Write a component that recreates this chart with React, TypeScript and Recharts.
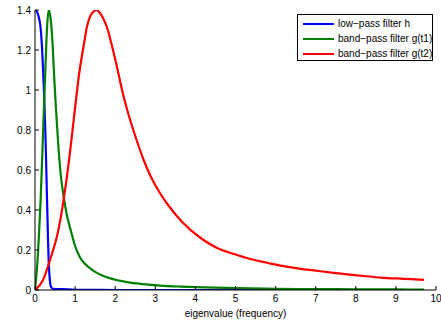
import React from 'react';
import { LineChart, Line, XAxis, YAxis, Legend } from 'recharts';

// low-pass filter h
const hX = [0, 0.05, 0.1, 0.14, 0.17, 0.2, 0.23, 0.26, 0.28, 0.3, 0.32, 0.34, 0.37, 0.4, 0.45, 0.7, 1.0, 2, 3, 4, 5, 6, 7, 8, 9, 9.7];
const hY = [1.4, 1.39, 1.36, 1.31, 1.23, 1.11, 0.96, 0.78, 0.62, 0.45, 0.29, 0.15, 0.05, 0.015, 0.006, 0.004, 0.001, 0, 0, 0, 0, 0, 0, 0, 0, 0];

// band-pass filter g(t1)
const g1X = [0, 0.05, 0.1, 0.14, 0.17, 0.2, 0.23, 0.26, 0.3, 0.34, 0.38, 0.43, 0.47, 0.51, 0.55, 0.59, 0.64, 0.72, 0.8, 0.89, 1.0, 1.13, 1.25, 1.37, 1.47, 1.65, 1.88, 2.1, 2.3, 2.7, 3.13, 3.63, 4.2, 5, 6, 7, 8, 9, 9.7];
const g1Y = [0, 0.11, 0.28, 0.45, 0.61, 0.78, 0.95, 1.11, 1.31, 1.4, 1.37, 1.26, 1.1, 0.95, 0.82, 0.7, 0.58, 0.46, 0.37, 0.3, 0.22, 0.16, 0.13, 0.109, 0.094, 0.075, 0.058, 0.047, 0.039, 0.029, 0.022, 0.017, 0.013, 0.009, 0.006, 0.0045, 0.0035, 0.0028, 0.0024];

// band-pass filter g(t2)
const g2X = [0, 0.2, 0.39, 0.55, 0.64, 0.72, 0.85, 0.97, 1.1, 1.22, 1.3, 1.38, 1.45, 1.53, 1.62, 1.72, 1.8, 1.92, 2.05, 2.17, 2.3, 2.5, 2.71, 2.88, 3.13, 3.3, 3.67, 4.13, 4.54, 4.96, 5.37, 5.79, 6.12, 6.62, 6.95, 7.4, 7.79, 8.2, 8.62, 9.2, 9.7];
const g2Y = [0, 0.05, 0.16, 0.27, 0.36, 0.46, 0.65, 0.86, 1.08, 1.23, 1.32, 1.37, 1.39, 1.4, 1.385, 1.35, 1.31, 1.22, 1.11, 1.0, 0.9, 0.77, 0.65, 0.57, 0.48, 0.43, 0.34, 0.26, 0.21, 0.18, 0.155, 0.136, 0.122, 0.106, 0.098, 0.087, 0.078, 0.07, 0.062, 0.056, 0.051];

const seriesNames = ['low\u2212pass filter h', 'band\u2212pass filter g(t1)', 'band\u2212pass filter g(t2)'];
const seriesColors = ['#0000ff', '#008000', '#ff0000'];

const xTicks = [0, 1, 2, 3, 4, 5, 6, 7, 8, 9, 10];
const yTicks = [0, 0.2, 0.4, 0.6, 0.8, 1, 1.2, 1.4];
const xLabel = 'eigenvalue (frequency)';

const toData = (xs: number[], ys: number[]) => xs.map((x, i) => ({ x, y: ys[i] }));
const seriesData = [toData(hX, hY), toData(g1X, g1Y), toData(g2X, g2Y)];

const FONT = '"Liberation Sans", Arial, Helvetica, sans-serif';

const renderLegend = () => (
  <div
    style={{
      width: 134,
      height: 45,
      border: '1px solid #000',
      background: '#fff',
      fontFamily: FONT,
      fontSize: 10,
      color: '#000',
      position: 'relative',
    }}
  >
    {seriesNames.map((name, i) => (
      <div
        key={name}
        style={{
          position: 'absolute',
          left: 5,
          top: 1 + i * 15.2,
          height: 15,
          display: 'flex',
          alignItems: 'center',
          whiteSpace: 'nowrap',
        }}
      >
        <div style={{ width: 31, height: 2, background: seriesColors[i], marginRight: 4 }} />
        <span>{name}</span>
      </div>
    ))}
  </div>
);

export default function App() {
  return (
    <div style={{ position: 'absolute', left: 0, top: 0, background: '#fff' }}>
      <LineChart width={441} height={325} margin={{ top: 10, right: 5, left: 5, bottom: 0 }}>
        <XAxis
          dataKey="x"
          type="number"
          domain={[0, 10]}
          ticks={xTicks}
          interval={0}
          allowDataOverflow
          stroke="#000"
          tickSize={-4}
          tickMargin={9}
          height={35}
          tick={{ fill: '#000', fontSize: 10, fontFamily: FONT }}
          label={{ value: xLabel, position: 'insideBottom', offset: 8, fill: '#000', fontSize: 10, fontFamily: FONT }}
        />
        <YAxis
          type="number"
          domain={[0, 1.4]}
          ticks={yTicks}
          interval={0}
          allowDataOverflow
          stroke="#000"
          tickSize={-4}
          tickMargin={8}
          width={30}
          tickFormatter={(v: number) => String(Math.round(v * 10) / 10)}
          tick={{ fill: '#000', fontSize: 10, fontFamily: FONT }}
        />
        {seriesData.map((d, i) => (
          <Line
            key={seriesNames[i]}
            data={d}
            dataKey="y"
            name={seriesNames[i]}
            type="monotone"
            stroke={seriesColors[i]}
            strokeWidth={2.2}
            dot={false}
            activeDot={false}
            isAnimationActive={false}
          />
        ))}
        <Legend
          layout="horizontal"
          verticalAlign="middle"
          align="center"
          content={renderLegend}
          wrapperStyle={{ left: 297, top: 14, width: 136, height: 47, right: 'auto', bottom: 'auto' }}
        />
      </LineChart>
    </div>
  );
}
